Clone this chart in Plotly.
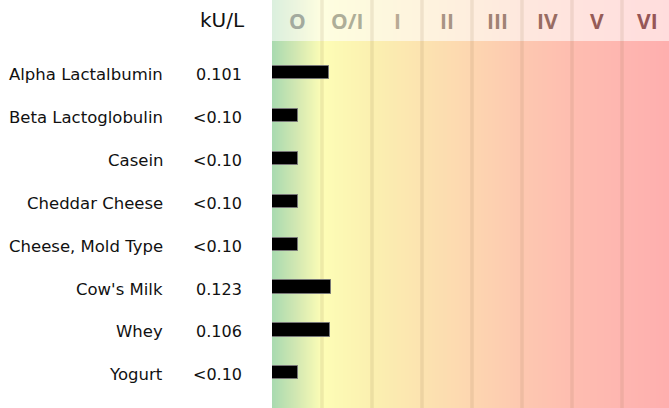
import numpy as np
import plotly.graph_objects as go

W, H = 669, 408

allergens = ["Alpha Lactalbumin", "Beta Lactoglobulin", "Casein", "Cheddar Cheese",
             "Cheese, Mold Type", "Cow's Milk", "Whey", "Yogurt"]
value_labels = ["0.101", "<0.10", "<0.10", "<0.10", "<0.10", "0.123", "0.106", "<0.10"]
# bar length expressed on the class scale (1 unit = one class column)
class_position = [1.13, 0.52, 0.52, 0.52, 0.52, 1.17, 1.16, 0.52]
class_labels = ["O", "O/I", "I", "II", "III", "IV", "V", "VI"]
class_label_colors = ["#a2aa9e", "#aeae98", "#b8aa94", "#a89484", "#a08274",
                      "#986c62", "#965c58", "#965656"]
unit_label = "kU/L"

# background gradient stops (class position -> colour)
grad_pos = [0, 0.5, 1, 2, 3, 4, 5, 6, 7, 8]
grad_col = ["#a8dab0", "#d3e8b2", "#fdfdb6", "#fbf0b0", "#fce3b0", "#fdd6b0",
            "#fdc8b0", "#febdb0", "#feb6b0", "#feaeae"]

n_cls = len(class_labels)
plot_left = 272
px_per_class = 50
x_max = (W - plot_left) / px_per_class
row0, row_step = 72.7, 42.86
y_top = (0 - row0) / row_step
y_bot = (H - row0) / row_step
header_h = 41


def hex_rgb(h):
    h = h.lstrip("#")
    return [int(h[i:i + 2], 16) for i in (0, 2, 4)]


stop_rgb = np.array([hex_rgb(c) for c in grad_col], dtype=float)

shapes = []
# gradient background drawn as thin strips (below everything)
step = 1.0 / px_per_class
edges = np.arange(0, n_cls + step / 2, step)
for a, b in zip(edges[:-1], edges[1:]):
    m = (a + b) / 2
    r, g, bl = [int(round(np.interp(m, grad_pos, stop_rgb[:, k]))) for k in range(3)]
    shapes.append(dict(type="rect", xref="x", yref="paper", x0=a, x1=b + step * 0.6,
                       y0=0, y1=1, fillcolor=f"rgb({r},{g},{bl})",
                       line=dict(width=0), layer="below"))
# header light overlay
shapes.append(dict(type="rect", xref="x", yref="paper", x0=0, x1=n_cls,
                   y0=1 - header_h / H, y1=1, fillcolor="rgba(255,255,255,0.58)",
                   line=dict(width=0), layer="below"))
for i in range(1, n_cls + 1):
    shapes.append(dict(type="line", xref="x", yref="paper", x0=i, x1=i, y0=0, y1=1,
                       line=dict(color="rgba(140,110,70,0.13)", width=3.5), layer="below"))

fig = go.Figure()
idx = list(range(len(allergens)))
fig.add_trace(go.Bar(
    x=class_position, y=idx, orientation="h", width=0.31,
    marker=dict(color="#000000", line=dict(color="#777777", width=1)),
    hoverinfo="skip",
))

ann = []
for i, (name, val) in enumerate(zip(allergens, value_labels)):
    ann.append(dict(xref="paper", yref="y", x=165 / W, y=i, text=name, showarrow=False,
                    xanchor="right", yanchor="middle", yshift=-2,
                    font=dict(family="DejaVu Sans", size=16.5, color="#111111")))
    ann.append(dict(xref="paper", yref="y", x=244 / W, y=i, text=val, showarrow=False,
                    xanchor="right", yanchor="middle", yshift=-2,
                    font=dict(family="DejaVu Sans", size=16, color="#111111")))
for i, (lab, col) in enumerate(zip(class_labels, class_label_colors)):
    ann.append(dict(xref="x", yref="paper", x=i + 0.5, y=1 - 21 / H, text="<b>" + lab + "</b>",
                    showarrow=False, xanchor="center", yanchor="middle",
                    font=dict(family="Open Sans", size=21, color=col)))
ann.append(dict(xref="paper", yref="paper", x=222 / W, y=1 - 20 / H, text=unit_label,
                showarrow=False, xanchor="center", yanchor="middle",
                font=dict(family="DejaVu Sans", size=20, color="#111111")))

fig.update_layout(
    width=W, height=H, margin=dict(l=0, r=0, t=0, b=0),
    paper_bgcolor="white", plot_bgcolor="rgba(0,0,0,0)", showlegend=False,
    xaxis=dict(domain=[plot_left / W, 1], range=[0, x_max], visible=False, fixedrange=True),
    yaxis=dict(domain=[0, 1], range=[y_bot, y_top], visible=False, fixedrange=True),
    shapes=shapes, annotations=ann, bargap=0,
)

fig.write_html("out.html", config={"displayModeBar": False},
               post_script="document.body.style.margin='0';document.body.style.overflow='hidden';")
